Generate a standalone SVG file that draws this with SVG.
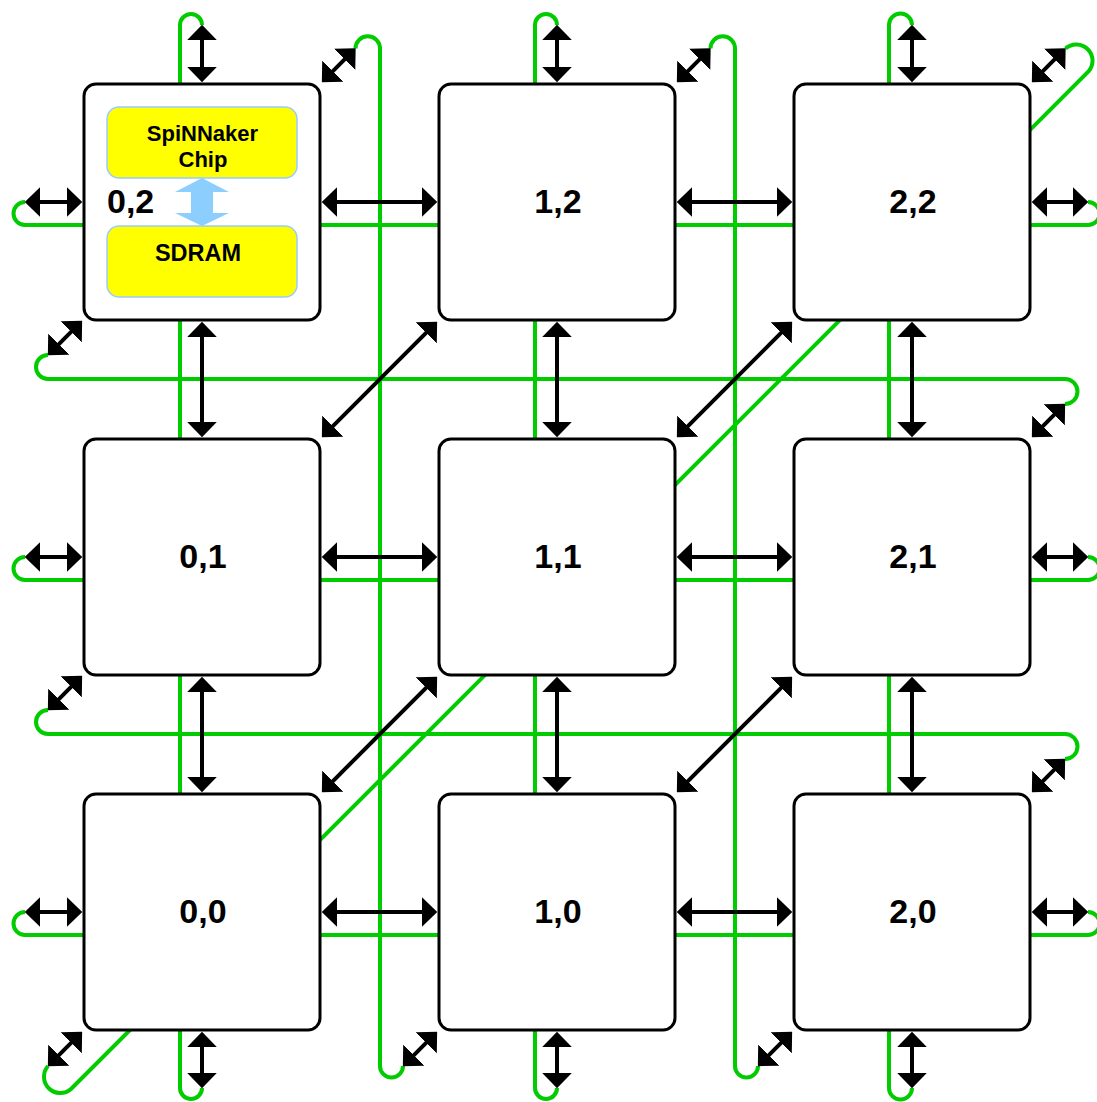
<svg xmlns="http://www.w3.org/2000/svg" width="1097" height="1102" viewBox="0 0 1097 1102">
<style>
.wire{fill:none;stroke:#00CC00;stroke-width:4}
.node{fill:#FFFFFF;stroke:#000;stroke-width:3}
.lbl{font-family:"Liberation Sans",Arial,sans-serif;font-weight:bold;font-size:34px;fill:#000;text-anchor:middle}
.arr{stroke:#000;stroke-width:4;fill:none;marker-start:url(#ah);marker-end:url(#ah)}
.ybox{fill:#FFFF00;stroke:#99CCFF;stroke-width:1.5}
.sm{font-family:"Liberation Sans",Arial,sans-serif;font-weight:bold;font-size:22px;fill:#000;text-anchor:middle}
.sd{font-family:"Liberation Sans",Arial,sans-serif;font-weight:bold;font-size:23.5px;fill:#000;text-anchor:middle}
</style>
<defs>
<marker id="ah" markerUnits="userSpaceOnUse" markerWidth="16" markerHeight="30" viewBox="0 0 15 29" refX="7" refY="14.5" orient="auto-start-reverse">
<path d="M0,0 L15,14.5 L0,29 z" fill="#000"/>
</marker>
</defs>
<rect width="1097" height="1102" fill="#FFFFFF"/>
<g id="wires">
<path class="wire" d="M25 202 A11.5 11.5 0 0 0 25 225 L1088 225 A11.5 11.5 0 0 0 1088 202"/>
<path class="wire" d="M25 557 A11.5 11.5 0 0 0 25 580 L1088 580 A11.5 11.5 0 0 0 1088 557"/>
<path class="wire" d="M25 912 A11.5 11.5 0 0 0 25 935 L1088 935 A11.5 11.5 0 0 0 1088 912"/>
<path class="wire" d="M202 25 A11 11 0 0 0 180 25 L180 1088 A11 11 0 0 0 202 1088"/>
<path class="wire" d="M557 25 A11 11 0 0 0 535 25 L535 1088 A11 11 0 0 0 557 1088"/>
<path class="wire" d="M912 25 A11.5 11.5 0 0 0 889 25 L889 1088 A11.5 11.5 0 0 0 912 1088"/>
<path class="wire" d="M355.5 48.5 A12.25 12.25 0 0 1 380 48.5 L380 1066 A11.5 11.5 0 0 0 403 1066"/>
<path class="wire" d="M710.5 48.5 A12.25 12.25 0 0 1 735 48.5 L735 1066 A11.5 11.5 0 0 0 758 1066"/>
<path class="wire" d="M48 355 A12 12 0 0 0 48 379 L1065 379 A12.5 12.5 0 0 1 1065 404"/>
<path class="wire" d="M48 710 A12 12 0 0 0 48 734 L1065 734 A12.5 12.5 0 0 1 1065 759"/>
<path class="wire" d="M1065.5 48.5 A16.3 16.3 0 0 1 1088.5 71.5 L71 1089 A16.3 16.3 0 0 1 48 1066"/>
</g>
<g id="n02">
<rect class="node" x="84" y="84" width="236" height="236" rx="12"/>
<rect class="ybox" x="107" y="107" width="190" height="71" rx="12"/>
<rect class="ybox" x="107" y="226" width="190" height="71" rx="12"/>
<text class="sm" x="202.5" y="141">SpiNNaker</text>
<text class="sm" x="203" y="166.5">Chip</text>
<text class="sd" x="198" y="261">SDRAM</text>
<polygon points="202,178 229,192 213,192 213,213 229,213 202,226 175,213 191,213 191,192 175,192" fill="#8CCFFF"/>
<text class="lbl" x="107" y="213" style="text-anchor:start">0,2</text>
</g>
<g id="n12"><rect class="node" x="439" y="84" width="236" height="236" rx="12"/><text class="lbl" x="558" y="213">1,2</text></g>
<g id="n22"><rect class="node" x="794" y="84" width="236" height="236" rx="12"/><text class="lbl" x="913" y="213">2,2</text></g>
<g id="n01"><rect class="node" x="84" y="439" width="236" height="236" rx="12"/><text class="lbl" x="203" y="568">0,1</text></g>
<g id="n11"><rect class="node" x="439" y="439" width="236" height="236" rx="12"/><text class="lbl" x="558" y="568">1,1</text></g>
<g id="n21"><rect class="node" x="794" y="439" width="236" height="236" rx="12"/><text class="lbl" x="913" y="568">2,1</text></g>
<g id="n00"><rect class="node" x="84" y="794" width="236" height="236" rx="12"/><text class="lbl" x="203" y="923">0,0</text></g>
<g id="n10"><rect class="node" x="439" y="794" width="236" height="236" rx="12"/><text class="lbl" x="558" y="923">1,0</text></g>
<g id="n20"><rect class="node" x="794" y="794" width="236" height="236" rx="12"/><text class="lbl" x="913" y="923">2,0</text></g>
<g id="connectors">
<line class="arr" x1="33" y1="202" x2="74" y2="202"/>
<line class="arr" x1="330" y1="202" x2="429" y2="202"/>
<line class="arr" x1="685" y1="202" x2="784" y2="202"/>
<line class="arr" x1="1040" y1="202" x2="1080" y2="202"/>
<line class="arr" x1="33" y1="557" x2="74" y2="557"/>
<line class="arr" x1="330" y1="557" x2="429" y2="557"/>
<line class="arr" x1="685" y1="557" x2="784" y2="557"/>
<line class="arr" x1="1040" y1="557" x2="1080" y2="557"/>
<line class="arr" x1="33" y1="912" x2="74" y2="912"/>
<line class="arr" x1="330" y1="912" x2="429" y2="912"/>
<line class="arr" x1="685" y1="912" x2="784" y2="912"/>
<line class="arr" x1="1040" y1="912" x2="1080" y2="912"/>
<line class="arr" x1="202" y1="33" x2="202" y2="74"/>
<line class="arr" x1="202" y1="330" x2="202" y2="429"/>
<line class="arr" x1="202" y1="685" x2="202" y2="784"/>
<line class="arr" x1="202" y1="1040" x2="202" y2="1080"/>
<line class="arr" x1="557" y1="33" x2="557" y2="74"/>
<line class="arr" x1="557" y1="330" x2="557" y2="429"/>
<line class="arr" x1="557" y1="685" x2="557" y2="784"/>
<line class="arr" x1="557" y1="1040" x2="557" y2="1080"/>
<line class="arr" x1="912" y1="33" x2="912" y2="74"/>
<line class="arr" x1="912" y1="330" x2="912" y2="429"/>
<line class="arr" x1="912" y1="685" x2="912" y2="784"/>
<line class="arr" x1="912" y1="1040" x2="912" y2="1080"/>
<line class="arr" x1="327.7" y1="431.3" x2="431.3" y2="327.7"/>
<line class="arr" x1="682.7" y1="431.3" x2="786.3" y2="327.7"/>
<line class="arr" x1="327.7" y1="786.3" x2="431.3" y2="682.7"/>
<line class="arr" x1="682.7" y1="786.3" x2="786.3" y2="682.7"/>
<line class="arr" x1="327.7" y1="76.3" x2="349.8" y2="54.2"/>
<line class="arr" x1="682.7" y1="76.3" x2="704.8" y2="54.2"/>
<line class="arr" x1="1037.7" y1="76.3" x2="1059.8" y2="54.2"/>
<line class="arr" x1="53.7" y1="1060.3" x2="76.3" y2="1037.7"/>
<line class="arr" x1="408.7" y1="1060.3" x2="431.3" y2="1037.7"/>
<line class="arr" x1="763.7" y1="1060.3" x2="786.3" y2="1037.7"/>
<line class="arr" x1="1037.7" y1="431.3" x2="1059.3" y2="409.7"/>
<line class="arr" x1="1037.7" y1="786.3" x2="1059.3" y2="764.7"/>
<line class="arr" x1="53.7" y1="349.3" x2="76.3" y2="326.7"/>
<line class="arr" x1="53.7" y1="704.3" x2="76.3" y2="681.7"/>
</g>
</svg>
